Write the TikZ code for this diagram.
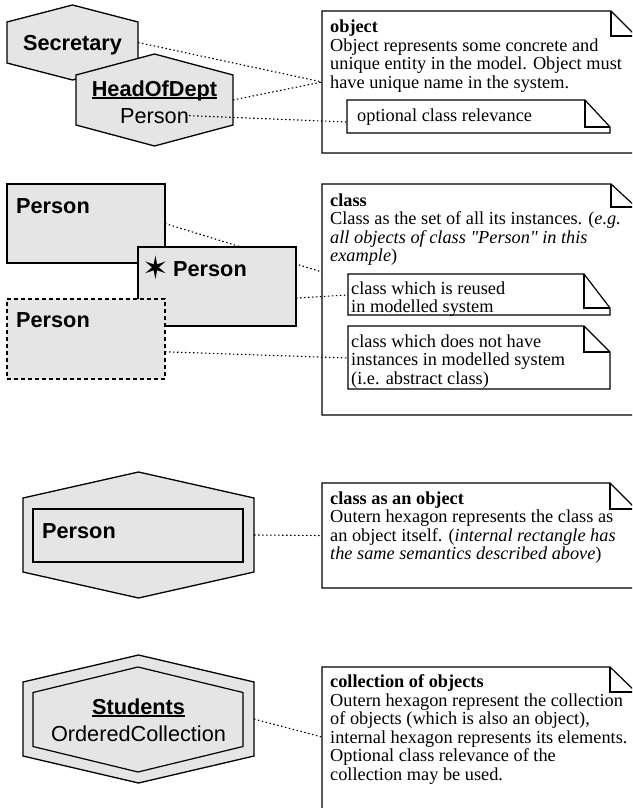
\documentclass[tikz,border=0pt]{standalone}
\usepackage{fontspec}
\setmainfont{Liberation Serif}
\setsansfont{Liberation Sans}
\newfontfamily\dingfont{DejaVu Sans}
\newfontfamily\rawserif{Liberation Serif}[Ligatures=TeXOff]
\usetikzlibrary{calc}

% underline drawn just under the baseline, as in the object names
\newcommand\undl[1]{\setbox0\hbox{#1}\rlap{\rule[-2.6pt]{\wd0}{1.5pt}}\box0}
% strut that fixes the height of the first line of a note text
\newcommand\fl{\rule{0pt}{13pt}}
% straight double quote (no TeX quote mapping)
\newcommand\dq{{\rawserif\itshape"}}
% hexagon inscribed in a named bounding node; #3 = height of the slanted edges
\newcommand\hexoutline[3][]{\draw[hexline,#1] ($(#2.north west)+(0,#3)$) -- (#2.north) -- ($(#2.north east)+(0,#3)$) -- ($(#2.south east)+(0,-#3)$) -- (#2.south) -- ($(#2.south west)+(0,-#3)$) -- cycle;}
% note with a folded corner on a named bounding node; #2 fold width, #3 fold height
\newcommand\noteoutline[3]{%
  \draw[noteline] (#1.north west) -- ($(#1.north east)+(-#2,0)$) -- ($(#1.north east)+(0,#3)$) -- (#1.south east) -- (#1.south west) -- cycle;
  \draw[noteline,fill=none] ($(#1.north east)+(-#2,0)$) -- ++(0,#3) -- ++(#2,0);}

\tikzset{
  bb/.style={draw=none, inner sep=0pt, outer sep=0pt, anchor=north west},
  hexline/.style={draw=black, line width=1.3pt, fill=black!10, line join=miter},
  noteline/.style={draw=black, line width=1.2pt, fill=white},
  box/.style={draw=black, line width=1.3pt, fill=black!10, inner sep=0pt, outer sep=0pt, anchor=north west},
  link/.style={draw=black, line width=1.1pt, dash pattern=on 1.5pt off 2.5pt},
  plainlabel/.style={font=\sffamily\fontsize{21.7}{24}\selectfont, inner sep=0pt},
  boldlabel/.style={font=\sffamily\bfseries\fontsize{21.7}{24}\selectfont, inner sep=0pt},
  notetext/.style={font=\fontsize{18.3}{18.5}\selectfont, inner sep=0pt, anchor=north west, align=left},
}

\begin{document}
\begin{tikzpicture}[x=1pt,y=-1pt]
\useasboundingbox (0,0) rectangle (632,808);
\clip (0,0) rectangle (632,808);

% ---------------- object ----------------
\node[bb, minimum width=314pt, minimum height=142pt] (objnote) at (322,11) {};
\noteoutline{objnote}{25}{25}
\node[notetext] (objtext) at (330,19.5) {\fl\textbf{object}\\Object represents some concrete and\\unique entity in the model. Object must\\have unique name in the system.};
\node[bb, minimum width=263pt, minimum height=33pt] (optnote) at (347,100) {};
\noteoutline{optnote}{25}{27}
\node[notetext, anchor=base west] (opttext) at (357,121) {optional class relevance};
\coordinate (objin) at ($(objnote.north west)!0.5!(objnote.south west)$);
\coordinate (optin) at ($(optnote.north west)!0.667!(optnote.south west)$);

\node[bb, minimum width=131pt, minimum height=75pt] (secr) at (7,5) {};
\hexoutline{secr}{17}
\node[boldlabel, anchor=base] (secrname) at (72.5,51) {Secretary};
\draw[link] (secr.east) -- (objin);

\node[bb, minimum width=157pt, minimum height=92pt] (hod) at (76,54) {};
\hexoutline{hod}{21}
\node[boldlabel, anchor=base] (hodname) at (154.5,96) {\undl{HeadOfDept}};
\node[plainlabel, anchor=base] (hodclass) at (154.5,123) {Person};
\draw[link] (hod.east) -- (objin);
\draw[link] (hodclass.east) -- (optin);

% ---------------- class ----------------
\node[bb, minimum width=314pt, minimum height=231pt] (clsnote) at (322,184) {};
\noteoutline{clsnote}{25}{23}
\node[notetext] (clstext) at (330,193) {\fl\textbf{class}\\Class as the set of all its instances. (\textit{e.g.}\\\textit{all objects of class \dq Person\dq\ in this}\\\textit{example})};
\node[bb, minimum width=262pt, minimum height=41pt] (reusenote) at (348,274) {};
\noteoutline{reusenote}{26}{34}
\node[notetext] (reusetext) at (351,281) {\fl class which is reused\\in modelled system};
\node[bb, minimum width=262pt, minimum height=63pt] (abstnote) at (348,326) {};
\noteoutline{abstnote}{26}{26}
\node[notetext] (absttext) at (351,334) {\fl class which does not have\\instances in modelled system\\(i.e. abstract class)};
\coordinate (clsin) at ($(clsnote.north west)!0.381!(clsnote.south west)$);
\coordinate (reusein) at ($(reusenote.north west)!0.512!(reusenote.south west)$);
\coordinate (abstin) at ($(abstnote.north west)!0.508!(abstnote.south west)$);

\node[box, minimum width=158pt, minimum height=79pt] (cls1) at (7,184) {};
\node[boldlabel, anchor=base west] (cls1name) at (16,213) {Person};
\draw[link] (cls1.east) -- (clsin);

\node[box, minimum width=158pt, minimum height=79pt] (cls2) at (138,247) {};
\node[inner sep=0pt, font=\dingfont\fontsize{32}{34}\selectfont] (cls2mark) at (156,268) {✶};
\node[boldlabel, anchor=base west] (cls2name) at (173,276) {Person};
\draw[link] ($(cls2.north east)!0.646!(cls2.south east)$) -- (reusein);

\node[box, dash pattern=on 4pt off 3pt, minimum width=158pt, minimum height=80pt] (cls3) at (7,299) {};
\node[boldlabel, anchor=base west] (cls3name) at (16,327) {Person};
\draw[link] ($(cls3.north east)!0.66!(cls3.south east)$) -- (abstin);

% ---------------- class as an object ----------------
\node[bb, minimum width=314pt, minimum height=105pt] (cobjnote) at (322,483) {};
\noteoutline{cobjnote}{26}{26}
\node[notetext] (cobjtext) at (330,491) {\fl\textbf{class as an object}\\Outern hexagon represents the class as\\an object itself. (\textit{internal rectangle has}\\\textit{the same semantics described above})};
\coordinate (cobjin) at ($(cobjnote.north west)!0.5!(cobjnote.south west)$);

\node[bb, minimum width=231pt, minimum height=126pt] (cobj) at (23,472) {};
\hexoutline{cobj}{26}
\node[box, line width=1.2pt, minimum width=210pt, minimum height=53pt] (cobjcls) at (33,509) {};
\node[boldlabel, anchor=base west] (cobjname) at (42,538) {Person};
\draw[link] (cobj.east) -- (cobjin);

% ---------------- collection of objects ----------------
\node[bb, minimum width=314pt, minimum height=170pt] (collnote) at (322,667) {};
\noteoutline{collnote}{26}{25}
\node[notetext] (colltext) at (330,674.5) {\fl\textbf{collection of objects}\\Outern hexagon represent the collection\\of objects (which is also an object),\\internal hexagon represents its elements.\\Optional class relevance of the\\collection may be used.};
\coordinate (collin) at ($(collnote.north west)!0.412!(collnote.south west)$);

\node[bb, minimum width=231pt, minimum height=128pt] (coll) at (23,655) {};
\hexoutline{coll}{27}
\node[bb, minimum width=210pt, minimum height=105pt] (collelem) at (33,667) {};
\hexoutline[line width=1.2pt]{collelem}{25.5}
\node[boldlabel, anchor=base] (collname) at (138.5,714) {\undl{Students}};
\node[plainlabel, anchor=base] (collclass) at (138.5,741) {OrderedCollection};
\draw[link] (coll.east) -- (collin);
\end{tikzpicture}
\end{document}
